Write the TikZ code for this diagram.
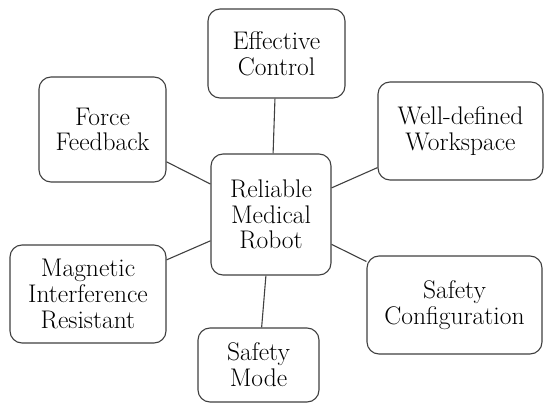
\documentclass[tikz,border=0pt]{standalone}

\begin{document}
\begin{tikzpicture}[x=1pt,y=-1pt,font=\fontsize{25.5}{25.8}\selectfont,
	every box/.style={draw=black!75,line width=1.1pt,rounded corners=12pt,inner sep=0pt,align=center,fill=white},
	every link/.style={draw=black!75,line width=1.1pt}]
	\useasboundingbox (0,0) rectangle (545,403);
	\node[every box,minimum width=120pt,minimum height=121pt] (hub) at (271,214.5) {Reliable\\Medical\\Robot};
	\node[every box,minimum width=137pt,minimum height=89pt] (control) at (276.5,53.5) {Effective\\Control};
	\node[every box,minimum width=165pt,minimum height=98pt] (workspace) at (460.5,131) {Well-defined\\Workspace};
	\node[every box,minimum width=127pt,minimum height=105pt] (force) at (102.5,129.5) {Force\\Feedback};
	\node[every box,minimum width=156pt,minimum height=98pt] (magnetic) at (88,294) {Magnetic\\Interference\\Resistant};
	\node[every box,minimum width=121pt,minimum height=74pt] (mode) at (258.5,365) {Safety\\Mode};
	\node[every box,minimum width=175pt,minimum height=98pt] (config) at (454.5,305) {Safety\\Configuration};
	\foreach \leaf in {control,workspace,force,magnetic,mode,config}
		\draw[every link] (\leaf) -- (hub);
\end{tikzpicture}
\end{document}
